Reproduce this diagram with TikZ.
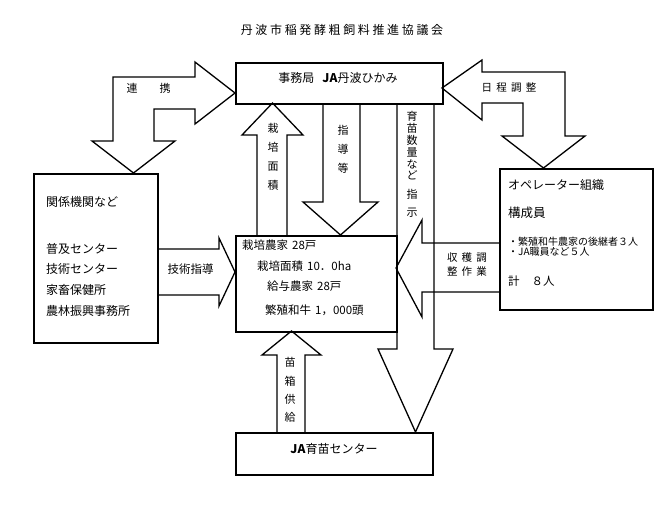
\documentclass[tikz,border=0pt]{standalone}
\usepackage{fontspec}
\setmainfont{Noto Sans CJK JP}
\newfontfamily\titlefont[LetterSpace=22]{Noto Sans CJK JP}
\newfontfamily\spacedfont[LetterSpace=40]{Noto Sans CJK JP}
\begin{document}
\begin{tikzpicture}[x=1pt,y=-1pt,
  box/.style={draw,line width=2.4pt,inner sep=0pt,anchor=north west},
  barrow/.style={draw,line width=1.3pt,line join=miter},
  txt/.style={inner sep=0pt,anchor=west,font=\fontsize{11.5}{13}\selectfont},
  lbl/.style={inner sep=0pt,font=\fontsize{11}{13}\selectfont},
  vlbl/.style={inner sep=0pt,align=center,font=\fontsize{11}{19}\selectfont}]
\fill[white] (0,0) rectangle (672,504);
\useasboundingbox (0,0) rectangle (672,504);

% title
\node[inner sep=0pt,font=\titlefont\fontsize{12}{14}\selectfont] (title) at (342,30) {丹波市稲発酵粗飼料推進協議会};

% boxes
\node[box,minimum width=207pt,minimum height=41pt] (top) at (235,62) {};
\node[box,minimum width=124pt,minimum height=169pt] (left) at (33,173) {};
\node[box,minimum width=161pt,minimum height=96pt] (center) at (235,235) {};
\node[box,minimum width=153pt,minimum height=141pt] (right) at (499,168) {};
\node[box,minimum width=197pt,minimum height=42pt] (bottom) at (235,432) {};

% top box text
\node[inner sep=0pt,font=\fontsize{12}{14}\selectfont] (toptext) at (338,78) {事務局\hspace{8pt}\textbf{JA}丹波ひかみ};

% left box text
\node[txt,font=\fontsize{12}{14}\selectfont] (l1) at (46,202) {関係機関など};
\node[txt,font=\fontsize{12}{14}\selectfont] (l2) at (46,249) {普及センター};
\node[txt,font=\fontsize{12}{14}\selectfont] (l3) at (46,269) {技術センター};
\node[txt,font=\fontsize{12}{14}\selectfont] (l4) at (46,290) {家畜保健所};
\node[txt,font=\fontsize{12}{14}\selectfont] (l5) at (46,311) {農林振興事務所};

% center box text
\node[txt] (c1) at (242,245) {栽培農家\hspace{4pt}28戸};
\node[txt] (c2) at (257,266) {栽培面積\hspace{4pt}10．0ha};
\node[txt] (c3) at (267,286) {給与農家\hspace{4pt}28戸};
\node[txt] (c4) at (265,310) {繁殖和牛\hspace{4pt}1，000頭};

% right box text
\node[txt,font=\fontsize{12}{14}\selectfont] (r1) at (508,185) {オペレーター組織};
\node[txt,font=\fontsize{12.5}{14}\selectfont] (r2) at (508,213) {構成員};
\node[txt,font=\fontsize{10}{12}\selectfont] (r3) at (508,242) {・繁殖和牛農家の後継者３人};
\node[txt,font=\fontsize{10}{12}\selectfont] (r4) at (508,252) {・JA職員など５人};
\node[txt,font=\fontsize{11.5}{13}\selectfont] (r5) at (508,281) {計\hspace{12pt}８人};

% bottom box text
\node[inner sep=0pt,font=\fontsize{12}{14}\selectfont] (btext) at (334,449) {\textbf{JA}育苗センター};

% L arrow: 連携 (top box <-> left box)
\draw[barrow] (235,93) -- (195,62) -- (195,77) -- (113,77) -- (113,141) -- (92,141)
  -- (133.5,173) -- (175,141) -- (154,141) -- (154,109) -- (195,109) -- (195,124) -- cycle;
\node[lbl] (renkei1) at (132,88) {連};
\node[lbl] (renkei2) at (165,88) {携};

% L arrow: 日程調整 (top box <-> right box)
\draw[barrow] (442,88) -- (482,60) -- (482,72) -- (565,72) -- (565,136) -- (585,136)
  -- (543.5,168) -- (502,136) -- (523,136) -- (523,103) -- (482,103) -- (482,120) -- cycle;
\node[inner sep=0pt,font=\spacedfont\fontsize{10.5}{13}\selectfont] (nittei) at (509,88) {日程調整};

% up arrow 栽培面積
\draw[barrow] (257,235) -- (257,135) -- (242,135) -- (272.5,103) -- (303,135) -- (287,135) -- (287,235);
\node[vlbl] (saibai) at (273,157) {栽\\培\\面\\積};

% down arrow 指導等
\draw[barrow] (323,103) -- (323,202) -- (303,202) -- (340.5,235) -- (378,202) -- (360,202) -- (360,103);
\node[vlbl] (shido) at (343,149) {指\\導\\等};

% big down arrow 育苗数量など指示
\draw[barrow] (397,103) -- (397,349) -- (378,349) -- (415.5,432) -- (453,349) -- (434,349) -- (434,103);
\node[vlbl,font=\fontsize{11}{11.8}\selectfont] (ikubyo) at (412,146) {育\\苗\\数\\量\\な\\ど};
\node[vlbl,font=\fontsize{11}{18}\selectfont] (shiji) at (412,203) {指\\示};

% left arrow from operator 収穫調整作業
\draw[barrow] (499,243) -- (422,243) -- (422,220) -- (396,268) -- (422,317) -- (422,292) -- (499,292);
\node[inner sep=0pt,font=\spacedfont\fontsize{10.5}{12}\selectfont] (shu1) at (467,258) {収穫調};
\node[inner sep=0pt,font=\spacedfont\fontsize{10.5}{12}\selectfont] (shu2) at (467,271) {整作業};

% right arrow 技術指導
\draw[barrow] (157,249) -- (219,249) -- (219,238) -- (235,272) -- (219,306) -- (219,295) -- (157,295);
\node[lbl,font=\fontsize{11.5}{13}\selectfont] (gijutsu) at (190.5,269) {技術指導};

% up arrow 苗箱供給
\draw[barrow] (277,432) -- (277,355) -- (262,355) -- (291.5,331) -- (321,355) -- (305,355) -- (305,432);
\node[vlbl,font=\fontsize{11}{18.3}\selectfont] (naebako) at (290,390) {苗\\箱\\供\\給};
\end{tikzpicture}
\end{document}
